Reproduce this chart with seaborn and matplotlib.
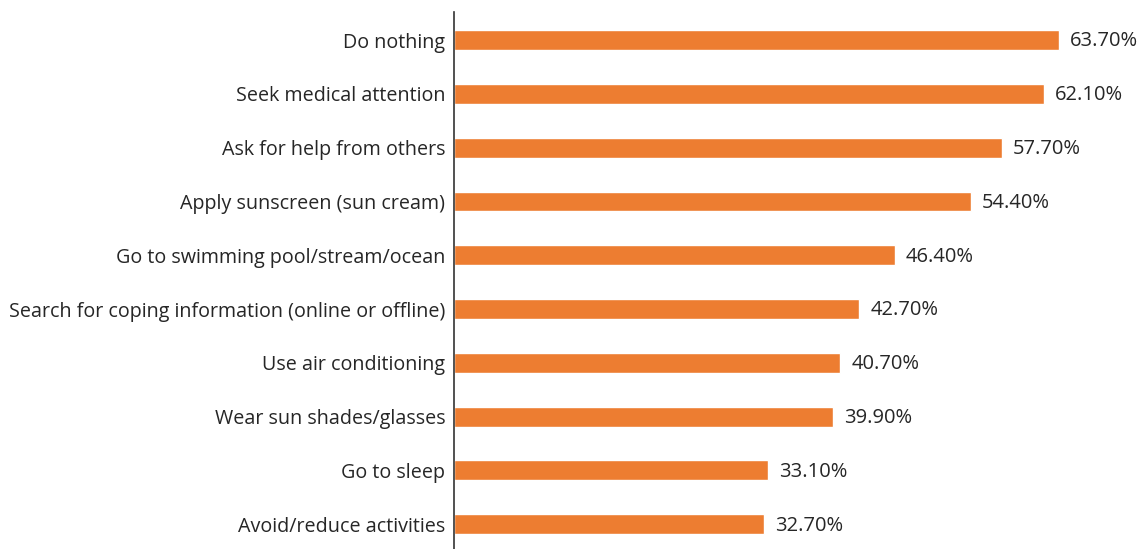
import matplotlib
matplotlib.use("Agg")
import matplotlib.pyplot as plt
import seaborn as sns
import pandas as pd

categories = [
    "Do nothing",
    "Seek medical attention",
    "Ask for help from others",
    "Apply sunscreen (sun cream)",
    "Go to swimming pool/stream/ocean",
    "Search for coping information (online or offline)",
    "Use air conditioning",
    "Wear sun shades/glasses",
    "Go to sleep",
    "Avoid/reduce activities",
]
values = [63.7, 62.1, 57.7, 54.4, 46.4, 42.7, 40.7, 39.9, 33.1, 32.7]
labels = ["63.70%", "62.10%", "57.70%", "54.40%", "46.40%",
          "42.70%", "40.70%", "39.90%", "33.10%", "32.70%"]

df = pd.DataFrame({"action": categories, "share": values})

sns.set_theme(style="white")
plt.rcParams["font.family"] = ["Open Sans", "DejaVu Sans"]

fig = plt.figure(figsize=(11.4, 5.49), dpi=100)
ax = fig.add_axes([0.398, 0.0, 0.6, 0.978])

sns.barplot(data=df, x="share", y="action", color="#ED7D31",
            width=0.37, saturation=1, ax=ax)

for patch, text in zip(ax.patches, labels):
    ax.annotate(text, (patch.get_width(), patch.get_y() + patch.get_height() / 2),
                xytext=(8, -1), textcoords="offset points",
                ha="left", va="center", fontsize=14.5, color="#262626")

ax.set_xlim(0, 72)
ax.set_ylim(9.46, -0.52)
ax.set_xlabel("")
ax.set_ylabel("")
ax.set_xticks([])
ax.tick_params(axis="y", length=0, pad=6, labelsize=14.2, labelcolor="#262626")
for side in ["top", "right", "bottom"]:
    ax.spines[side].set_visible(False)
ax.spines["left"].set_color("#333333")
ax.spines["left"].set_linewidth(1.2)

fig.savefig("out.png", dpi=100)
